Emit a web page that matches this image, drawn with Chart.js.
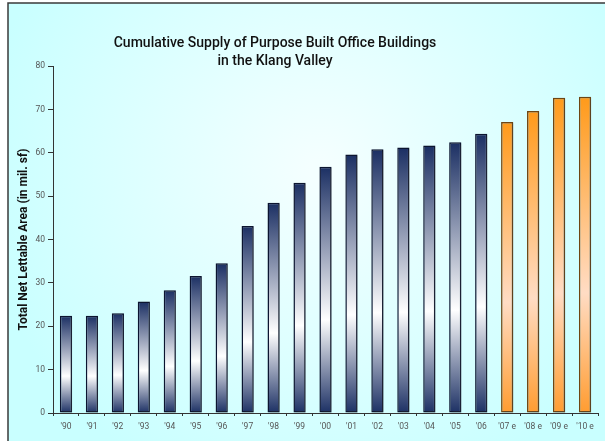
<!DOCTYPE html>
<html lang="en">
<head>
<meta charset="UTF-8">
<title>Klang Valley Office Supply</title>
<script src="https://cdn.jsdelivr.net/npm/chart.js"></script>
<style>
html, body {margin: 0; padding: 0; background: #fff;}
#wrap {position: relative; width: 605px; height: 441px;}
</style>
</head>
<body>
<div id="wrap"><canvas id="supplyChart"></canvas></div>
<script>
// data (mil. sf)
const years = ["'90", "'91", "'92", "'93", "'94", "'95", "'96", "'97", "'98", "'99", "'00",
               "'01", "'02", "'03", "'04", "'05", "'06", "'07 e", "'08 e", "'09 e", "'10 e"];
const supply = [22.4, 22.4, 23.0, 25.7, 28.3, 31.6, 34.5, 43.1, 48.5, 53.1, 56.8,
                59.6, 60.8, 61.2, 61.7, 62.4, 64.4, 67.1, 69.6, 72.7, 72.9];
const estimated = years.map(y => y.endsWith('e'));
const yTicks = [0, 10, 20, 30, 40, 50, 60, 70, 80];
const titleLines = ['Cumulative Supply of Purpose Built Office Buildings', 'in the Klang Valley'];
const yTitle = 'Total Net Lettable Area (in mil. sf)';

const fontFamily = 'Roboto, "Open Sans", sans-serif';

// background panel, frame and two-line title
const backdrop = {
  id: 'backdrop',
  beforeDraw(chart) {
    const ctx = chart.ctx;
    ctx.save();
    ctx.fillStyle = '#ffffff';
    ctx.fillRect(0, 0, chart.width, chart.height);
    const g = ctx.createRadialGradient(320, 170, 10, 320, 170, 340);
    g.addColorStop(0, '#f4ffff');
    g.addColorStop(1, '#c9ffff');
    ctx.fillStyle = g;
    ctx.fillRect(8, 3, chart.width - 8, chart.height - 3);
    ctx.strokeStyle = '#3a3a3a';
    ctx.lineWidth = 1.5;
    ctx.beginPath();
    ctx.moveTo(8, chart.height);
    ctx.lineTo(8, 3);
    ctx.lineTo(chart.width, 3);
    ctx.stroke();
    ctx.restore();
  },
  afterDraw(chart) {
    const ctx = chart.ctx;
    ctx.save();
    ctx.fillStyle = '#111';
    ctx.font = '500 14px ' + fontFamily;
    ctx.textAlign = 'center';
    ctx.textBaseline = 'middle';
    ctx.fillText(titleLines[0], 275, 43);
    ctx.fillText(titleLines[1], 275, 61);
    ctx.restore();
  }
};

// soft drop shadow under the bars
const barShadow = {
  id: 'barShadow',
  beforeDatasetsDraw(chart) {
    const ctx = chart.ctx;
    ctx.save();
    ctx.shadowColor = 'rgba(60,60,60,0.35)';
    ctx.shadowOffsetX = 2;
    ctx.shadowOffsetY = 1;
    ctx.shadowBlur = 2;
  },
  afterDatasetsDraw(chart) {
    chart.ctx.restore();
  }
};

function barFill(context) {
  const chart = context.chart;
  const est = estimated[context.dataIndex];
  if (!chart.chartArea || context.type !== 'data') return est ? '#ff9a1a' : '#1b2f63';
  const y = chart.scales.y;
  const top = y.getPixelForValue(supply[context.dataIndex]);
  const bottom = y.getPixelForValue(0);
  const g = chart.ctx.createLinearGradient(0, top, 0, bottom);
  if (est) {
    g.addColorStop(0, '#ff9a1a');
    g.addColorStop(0.62, '#ffdcc4');
    g.addColorStop(1, '#ff9c30');
  } else {
    g.addColorStop(0, '#1b2f63');
    g.addColorStop(0.62, '#ffffff');
    g.addColorStop(1, '#1c3064');
  }
  return g;
}

new Chart(document.getElementById('supplyChart'), {
  type: 'bar',
  data: {
    labels: years,
    datasets: [{
      label: yTitle,
      data: supply,
      backgroundColor: barFill,
      borderColor: ctx => estimated[ctx.dataIndex] ? '#6e4512' : '#0b1430',
      borderWidth: 1.5,
      borderSkipped: false,
      barPercentage: 0.47,
      categoryPercentage: 1
    }]
  },
  options: {
    responsive: true,
    maintainAspectRatio: false,
    animation: false,
    layout: {padding: {left: 12, right: 7, top: 66, bottom: 0}},
    plugins: {
      legend: {display: false},
      tooltip: {enabled: false}
    },
    scales: {
      x: {
        grid: {display: true, drawOnChartArea: false, drawTicks: true, tickLength: 3, color: '#333', offset: true},
        border: {color: '#333', width: 1},
        ticks: {color: '#555', font: {family: fontFamily, size: 8.5}, padding: 6, maxRotation: 0, autoSkip: false},
        afterFit: s => { s.height = 28; }
      },
      y: {
        min: 0,
        max: 80,
        afterBuildTicks: s => { s.ticks = yTicks.map(v => ({value: v})); },
        grid: {display: true, drawOnChartArea: false, drawTicks: true, tickLength: 5, color: '#333'},
        border: {color: '#333', width: 1},
        ticks: {color: '#555', font: {family: fontFamily, size: 8.5}, padding: 3},
        title: {
          display: true,
          text: yTitle,
          color: '#111',
          font: {family: fontFamily, size: 12, weight: 'bold'},
          padding: {top: 5, bottom: 4}
        },
        afterFit: s => { s.width = 41; }
      }
    }
  },
  plugins: [backdrop, barShadow]
});
</script>
</body>
</html>
